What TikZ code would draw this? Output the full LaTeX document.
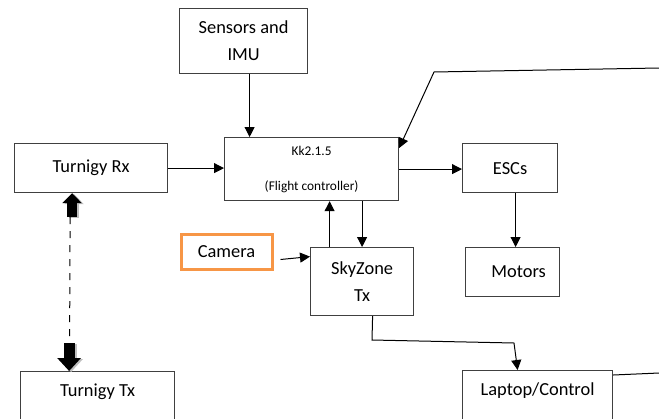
\documentclass[tikz,border=0pt]{standalone}
\usepackage{fontspec}
\setmainfont{Carlito}
\usetikzlibrary{positioning,arrows.meta}
\newdimen\pxu \pxu=0.75pt
\definecolor{camorange}{RGB}{247,150,70}
\definecolor{boxgray}{RGB}{64,64,64}

\begin{document}
\begin{tikzpicture}[x=0.75pt, y=-0.75pt,
    box/.style={draw=boxgray, line width=1.2\pxu, inner sep=0pt, anchor=north west, align=center, font=\fontsize{13.8}{20.25}\selectfont},
    arr/.style={line width=1\pxu, -{Triangle[length=7.5pt,width=7.5pt]}},
    link/.style={line width=1\pxu},
    dashlink/.style={line width=1\pxu, dash pattern=on 5.25pt off 5.25pt},
    blockup/.style={line width=10\pxu, -{Triangle[length=7.5pt,width=14.25pt]}},
    blockdown/.style={line width=11\pxu, -{Triangle[length=9.75pt,width=17.25pt]}}]
\useasboundingbox (0,0) rectangle (659,418);

% Boxes
\node[box, minimum width=128\pxu, minimum height=65\pxu] (sensors) at (179,8) {Sensors and\\IMU};
\node[box, minimum width=174\pxu, minimum height=63\pxu, font=\fontsize{10}{26.25}\selectfont] (fc) at (224,137) {Kk2.1.5\\(Flight controller)};
\node[box, minimum width=153\pxu, minimum height=49\pxu] (rx) at (14,143) {Turnigy Rx};
\node[box, minimum width=154\pxu, inner ysep=12\pxu, text depth=40\pxu] (tx) at (20,371) {Turnigy Tx};
\node[box, draw=camorange, line width=3\pxu, minimum width=91\pxu, minimum height=35\pxu] (camera) at (179.5,232.5) {Camera};
\node[box, minimum width=103\pxu, minimum height=68\pxu] (skyzone) at (310,247) {SkyZone\\Tx};
\node[box, minimum width=95\pxu, minimum height=49\pxu] (escs) at (462,143) {ESCs};
\node[box, minimum width=94\pxu, minimum height=49\pxu] (motors) at (465,247) {\hspace{9pt}Motors};
\node[box, minimum width=150\pxu, inner ysep=12\pxu, text depth=40\pxu] (laptop) at (462,370) {Laptop/Control};

% Connection points
\coordinate (sensout) at ([xshift=6\pxu]sensors.south);
\coordinate (upfoot) at ([xshift=-32.5\pxu]skyzone.north);
\coordinate (escout) at ([xshift=5.5\pxu]escs.south);
\coordinate (camout) at ([xshift=7\pxu,yshift=-8\pxu]camera.east);
\coordinate (camin) at ([yshift=25\pxu]skyzone.west);
\coordinate (skyout) at ([xshift=10.5\pxu]skyzone.south);
\coordinate (bendA) at (372,340);
\coordinate (bendB) at (514,343);
\coordinate (lapin) at ([xshift=-20\pxu]laptop.north);
\coordinate (feedR) at (659,68);
\coordinate (feedK) at (434,72);
\coordinate (fcin) at ([yshift=-11\pxu]fc.north east);
\coordinate (lapR) at (659,373);
\coordinate (rxlink) at ([xshift=-19\pxu]rx.south);
\coordinate (txlink) at ([xshift=-28.5\pxu]tx.north);

% Arrows
\draw[arr] (sensout) -- (sensout |- fc.north);
\draw[arr] (rx.east) -- (rx.east -| fc.west);
\draw[arr] (fc.east) -- (fc.east -| escs.west);
\draw[arr] (escout) -- (escout |- motors.north);
\draw[arr] (upfoot) -- (upfoot |- fc.south);
\draw[arr] (fc.south -| skyzone.north) -- (skyzone.north);
\draw[arr] (camout) -- (camin);
\draw[arr] (skyout) -- (bendA) -- (bendB) -- (lapin);
\draw[arr] (feedR) -- (feedK) -- (fcin);
\draw[link] ([yshift=-5\pxu]laptop.north east) -- (lapR);

% Radio link
\draw[blockup, gray!50] ([xshift=2\pxu,yshift=-25\pxu]rxlink) -- ([xshift=2\pxu,yshift=-1\pxu]rxlink);
\draw[blockup] ([yshift=-24\pxu]rxlink) -- (rxlink);
\draw[dashlink] ([xshift=-2\pxu,yshift=-24\pxu]rxlink) -- ([xshift=0.5\pxu,yshift=28\pxu]txlink);
\draw[blockdown, gray!50] ([xshift=2\pxu,yshift=27\pxu]txlink) -- ([xshift=2\pxu,yshift=-1\pxu]txlink);
\draw[blockdown] ([yshift=28\pxu]txlink) -- (txlink);

\end{tikzpicture}
\end{document}
